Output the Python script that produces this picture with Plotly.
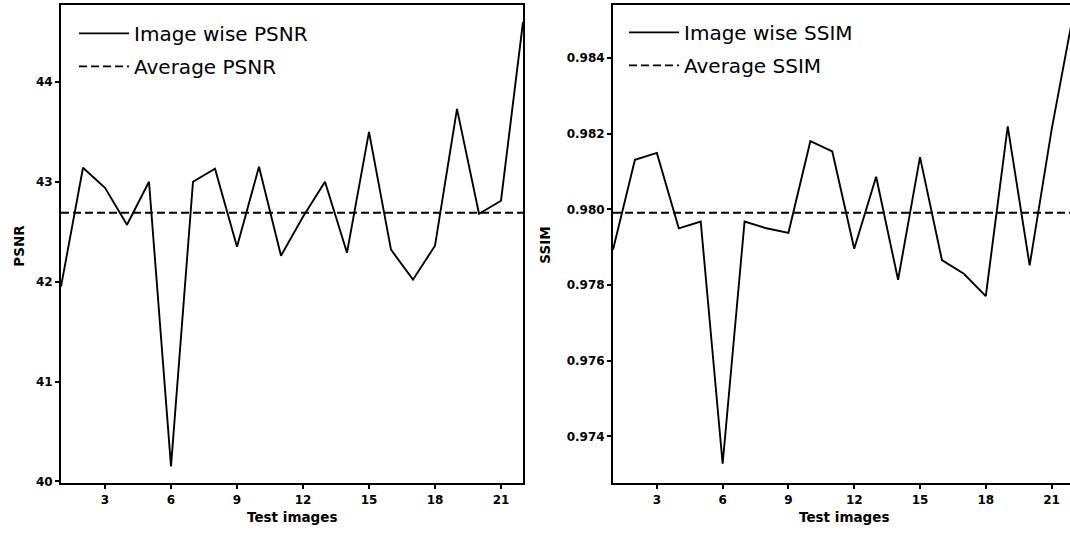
import plotly.graph_objects as go

# ---- data ----
images = list(range(1, 23))
psnr = [41.95, 43.14, 42.94, 42.57, 43.00, 40.15, 43.00, 43.13, 42.35, 43.15, 42.26,
        42.65, 43.00, 42.29, 43.50, 42.32, 42.02, 42.36, 43.73, 42.68, 42.81, 44.60]
ssim = [0.97893, 0.98131, 0.98149, 0.97950, 0.97968, 0.97328, 0.97968, 0.97950, 0.97938,
        0.98180, 0.98153, 0.97896, 0.98086, 0.97814, 0.98138, 0.97866, 0.97830, 0.97771,
        0.98219, 0.97852, 0.98210, 0.98520]
avg_psnr = 42.69
avg_ssim = 0.97991
psnr_ticks = [40, 41, 42, 43, 44]
ssim_ticks = [0.974, 0.976, 0.978, 0.980, 0.982, 0.984]
x_ticks = [3, 6, 9, 12, 15, 18, 21]

W, H = 1070, 533
FONT = "DejaVu Sans"
BLACK = "black"

fig = go.Figure()
fig.add_trace(go.Scatter(x=images, y=psnr, mode="lines", name="Image wise PSNR",
                         line=dict(color=BLACK, width=1.9), xaxis="x", yaxis="y",
                         legend="legend", legendgroup="a"))
fig.add_trace(go.Scatter(x=[images[0], images[-1]], y=[avg_psnr, avg_psnr], mode="lines",
                         name="Average PSNR", line=dict(color=BLACK, width=1.9, dash="8px,4px"),
                         xaxis="x", yaxis="y", legend="legend", legendgroup="b"))
fig.add_trace(go.Scatter(x=images, y=ssim, mode="lines", name="Image wise SSIM",
                         line=dict(color=BLACK, width=1.9), xaxis="x2", yaxis="y2",
                         legend="legend2", legendgroup="c"))
fig.add_trace(go.Scatter(x=[images[0], images[-1]], y=[avg_ssim, avg_ssim], mode="lines",
                         name="Average SSIM", line=dict(color=BLACK, width=1.9, dash="8px,4px"),
                         xaxis="x2", yaxis="y2", legend="legend2", legendgroup="d"))

tickfont = dict(family=FONT, size=12, color=BLACK, weight="bold")
common = dict(ticks="outside", ticklen=4, tickwidth=1.5, tickcolor=BLACK, showline=True,
              linecolor=BLACK, linewidth=2, showgrid=False, zeroline=False, tickfont=tickfont)

ydom = [1 - 488 / H, 1 - 5 / H]
legfont = dict(family=FONT, size=20, color=BLACK)
fig.update_layout(
    width=W, height=H, margin=dict(l=0, r=0, t=0, b=0),
    paper_bgcolor="white", plot_bgcolor="white",
    xaxis=dict(domain=[61 / W, 523 / W], range=[1, 22], tickvals=x_ticks, mirror=True,
               anchor="y", **common),
    yaxis=dict(domain=ydom, range=[39.98, 44.77], tickvals=psnr_ticks, mirror=True,
               anchor="x", **common),
    xaxis2=dict(domain=[613 / W, 1.0], range=[1, 21.84], tickvals=x_ticks, mirror=True,
                anchor="y2", **common),
    yaxis2=dict(domain=ydom, range=[0.97276, 0.9854], tickvals=ssim_ticks, tickformat=".3f",
                mirror=False, anchor="x2", **common),
    legend=dict(x=74 / W, y=1 - 14 / H, xanchor="left", yanchor="top",
                bgcolor="rgba(0,0,0,0)", borderwidth=0, tracegroupgap=4, itemwidth=50,
                font=legfont),
    legend2=dict(x=624 / W, y=1 - 13 / H, xanchor="left", yanchor="top",
                 bgcolor="rgba(0,0,0,0)", borderwidth=0, tracegroupgap=4, itemwidth=50,
                 font=legfont),
    showlegend=True,
)

tf = dict(family=FONT, size=13.5, color=BLACK, weight="bold")
ann = dict(xref="paper", yref="paper", showarrow=False, font=tf,
           xanchor="center", yanchor="middle")
fig.add_annotation(text="PSNR", x=19 / W, y=1 - 248 / H, textangle=-90, **ann)
fig.add_annotation(text="SSIM", x=545 / W, y=1 - 248 / H, textangle=-90, **ann)
fig.add_annotation(text="Test images", x=292 / W, y=1 - 522 / H, **ann)
fig.add_annotation(text="Test images", x=844 / W, y=1 - 522 / H, **ann)

fig.write_html("out.html", config={"displayModeBar": False},
               post_script="document.body.style.margin='0';document.body.style.overflow='hidden';")
